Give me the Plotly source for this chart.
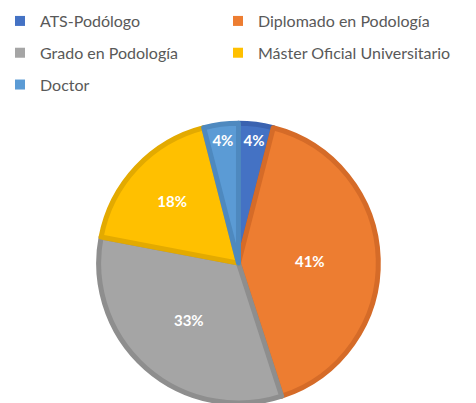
import plotly.graph_objects as go

# data
categorias = ["ATS-Podólogo", "Diplomado en Podología", "Grado en Podología",
              "Máster Oficial Universitario", "Doctor"]
valores = [4, 41, 33, 18, 4]
colores = ["#4472C4", "#ED7D31", "#A5A5A5", "#FFC000", "#5B9BD5"]
bordes = ["#3A62B0", "#D56B28", "#8E8E8E", "#E3AA00", "#4E89BF"]

# orden de la leyenda: columna izquierda / derecha
col_izq = [0, 2, 4]
col_der = [1, 3]

fig = go.Figure()

fig.add_trace(go.Pie(
    labels=categorias,
    values=valores,
    sort=False,
    direction="clockwise",
    rotation=0,
    marker=dict(colors=colores, line=dict(color=bordes, width=5)),
    textinfo="percent",
    textposition="inside",
    insidetextorientation="horizontal",
    insidetextfont=dict(color="white", size=15, family="Lato", weight="bold"),
    showlegend=False,
    domain=dict(x=[0.206, 0.796], y=[0.0, 0.694]),
    hoverinfo="label+percent",
))

# entradas de leyenda (dos columnas)
for i in range(len(categorias)):
    fig.add_trace(go.Scatter(
        x=[None], y=[None], mode="markers",
        marker=dict(symbol="square", size=10, color=colores[i]),
        name=categorias[i],
        legendgroup=categorias[i],
        legend="legend" if i in col_izq else "legend2",
    ))

leyenda = dict(
    orientation="v", yanchor="top", xanchor="left",
    font=dict(family="Lato", size=16, color="#595959"),
    tracegroupgap=8, bgcolor="rgba(0,0,0,0)",
)

fig.update_layout(
    width=476, height=403,
    margin=dict(l=0, r=0, t=0, b=0),
    paper_bgcolor="white", plot_bgcolor="white",
    xaxis=dict(visible=False), yaxis=dict(visible=False),
    uniformtext=dict(minsize=15, mode="show"),
    legend=dict(leyenda, x=0.0, y=0.99),
    legend2=dict(leyenda, x=0.458, y=0.99),
)

# sin margen del body, para que la figura empiece en (0, 0)
fig.write_html("out.html", config={"displayModeBar": False},
               post_script="document.body.style.margin='0';")
